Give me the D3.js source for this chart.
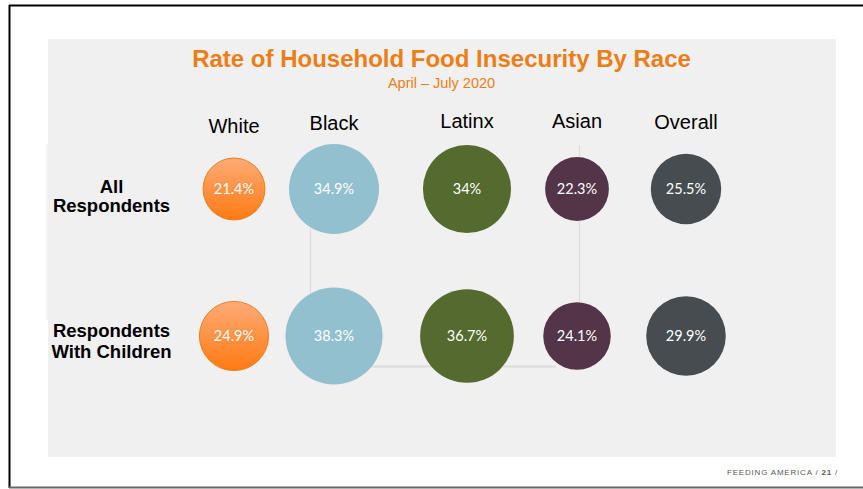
<!DOCTYPE html>
<html>
<head>
<meta charset="utf-8">
<script src="https://cdn.jsdelivr.net/npm/d3@7"></script>
<style>
  body { margin: 0; background: #fff; }
  svg { display: block; }
</style>
</head>
<body>
<div id="chart"></div>
<script>
// data
var races = ["White", "Black", "Latinx", "Asian", "Overall"];
var groups = ["All Respondents", "Respondents With Children"];
var allRespondents = [21.4, 34.9, 34, 22.3, 25.5];
var withChildren = [24.9, 38.3, 36.7, 24.1, 29.9];

var width = 863, height = 489;

var svg = d3.select("#chart").append("svg")
    .attr("width", width)
    .attr("height", height);

var defs = svg.append("defs");
var grad = defs.append("linearGradient").attr("id", "orangeGrad")
    .attr("x1", 0).attr("y1", 0).attr("x2", 0).attr("y2", 1);
grad.append("stop").attr("offset", "0%").attr("stop-color", "#fdab76");
grad.append("stop").attr("offset", "100%").attr("stop-color", "#ff7a12");

// slide frame
svg.append("line").attr("x1", 9).attr("x2", width).attr("y1", 5.5).attr("y2", 5.5)
    .attr("stroke", "#000").attr("stroke-width", 2);
svg.append("line").attr("x1", 9.5).attr("x2", 9.5).attr("y1", 5).attr("y2", 488)
    .attr("stroke", "#000").attr("stroke-width", 2);
svg.append("line").attr("x1", 9).attr("x2", width).attr("y1", 487.5).attr("y2", 487.5)
    .attr("stroke", "#666").attr("stroke-width", 2);

// grey panel
svg.append("rect").attr("x", 48).attr("y", 39).attr("width", 788).attr("height", 418)
    .attr("fill", "#f0f0f0");
svg.append("rect").attr("x", 46).attr("y", 144).attr("width", 2).attr("height", 176)
    .attr("fill", "#f3f3f3");

// leftover chart frame lines behind the bubbles
var frame = svg.append("g").attr("stroke", "#dcdcdc").attr("fill", "none");
frame.append("line").attr("x1", 310.5).attr("x2", 310.5).attr("y1", 228).attr("y2", 367).attr("stroke-width", 1.2);
frame.append("line").attr("x1", 297).attr("x2", 556).attr("y1", 366.5).attr("y2", 366.5).attr("stroke-width", 2);
frame.append("line").attr("x1", 579.5).attr("x2", 579.5).attr("y1", 145).attr("y2", 305).attr("stroke-width", 1.2);

// title
svg.append("text").attr("x", 441.5).attr("y", 66.5)
    .attr("text-anchor", "middle")
    .style("font-family", "'Liberation Sans', Arial, sans-serif")
    .style("font-size", "24px").style("font-weight", "bold")
    .style("fill", "#ed7d14")
    .text("Rate of Household Food Insecurity By Race");
svg.append("text").attr("x", 441.5).attr("y", 87.5)
    .attr("text-anchor", "middle")
    .style("font-family", "'Liberation Sans', Arial, sans-serif")
    .style("font-size", "14.5px")
    .style("fill", "#ed7d14")
    .text("April \u2013 July 2020");

// scales
var x = d3.scaleOrdinal().domain(races).range([234, 334, 467, 577, 686]);
var labelY = d3.scaleOrdinal().domain(races).range([133, 130, 128, 128, 129]);
var y = d3.scaleOrdinal().domain(groups).range([189, 336]);
var r = d3.scaleLinear().domain([20, 40]).range([29.5, 50.3]);
var color = d3.scaleOrdinal().domain(races)
    .range(["url(#orangeGrad)", "#92c0ce", "#546a2e", "#533449", "#474c50"]);

// column headers
svg.append("g").selectAll("text").data(races).enter().append("text")
    .attr("x", function (d) { return x(d); })
    .attr("y", function (d) { return labelY(d); })
    .attr("text-anchor", "middle")
    .style("font-family", "'Liberation Sans', Arial, sans-serif")
    .style("font-size", "20px")
    .style("fill", "#000")
    .text(function (d) { return d; });

// row headers
var rowLines = [["All", "Respondents"], ["Respondents", "With Children"]];
var rowBase = [[192.5, 211.5], [336.5, 357.5]];
groups.forEach(function (g, i) {
    var t = svg.append("text").attr("text-anchor", "middle")
        .style("font-family", "'Liberation Sans', Arial, sans-serif")
        .style("font-size", "18.5px").style("font-weight", "bold")
        .style("fill", "#000");
    rowLines[i].forEach(function (line, j) {
        t.append("tspan").attr("x", 111.5).attr("y", rowBase[i][j]).text(line);
    });
});

// bubbles
var cells = [];
races.forEach(function (race, i) {
    cells.push({ race: race, group: groups[0], value: allRespondents[i] });
    cells.push({ race: race, group: groups[1], value: withChildren[i] });
});

var bubble = svg.append("g").selectAll("g").data(cells).enter().append("g")
    .attr("transform", function (d) { return "translate(" + x(d.race) + "," + y(d.group) + ")"; });

bubble.append("circle")
    .attr("r", function (d) { return r(d.value); })
    .attr("fill", function (d) { return color(d.race); })
    .attr("stroke", function (d) { return d.race === "White" ? "#ef7f1d" : "none"; })
    .attr("stroke-width", 1);

bubble.append("text")
    .attr("text-anchor", "middle")
    .attr("dy", "0.36em")
    .style("font-family", "Lato, 'Open Sans', sans-serif")
    .style("font-size", "14.5px")
    .style("fill", "#fff")
    .text(function (d) { return d.value + "%"; });

// footer
var foot = svg.append("text").attr("x", 838).attr("y", 475)
    .attr("text-anchor", "end")
    .style("font-family", "'Liberation Sans', Arial, sans-serif")
    .style("font-size", "8px")
    .style("letter-spacing", "0.8px")
    .style("fill", "#595959");
foot.append("tspan").text("FEEDING AMERICA / ");
foot.append("tspan").style("font-weight", "bold").text("21");
foot.append("tspan").text(" /");
</script>
</body>
</html>
